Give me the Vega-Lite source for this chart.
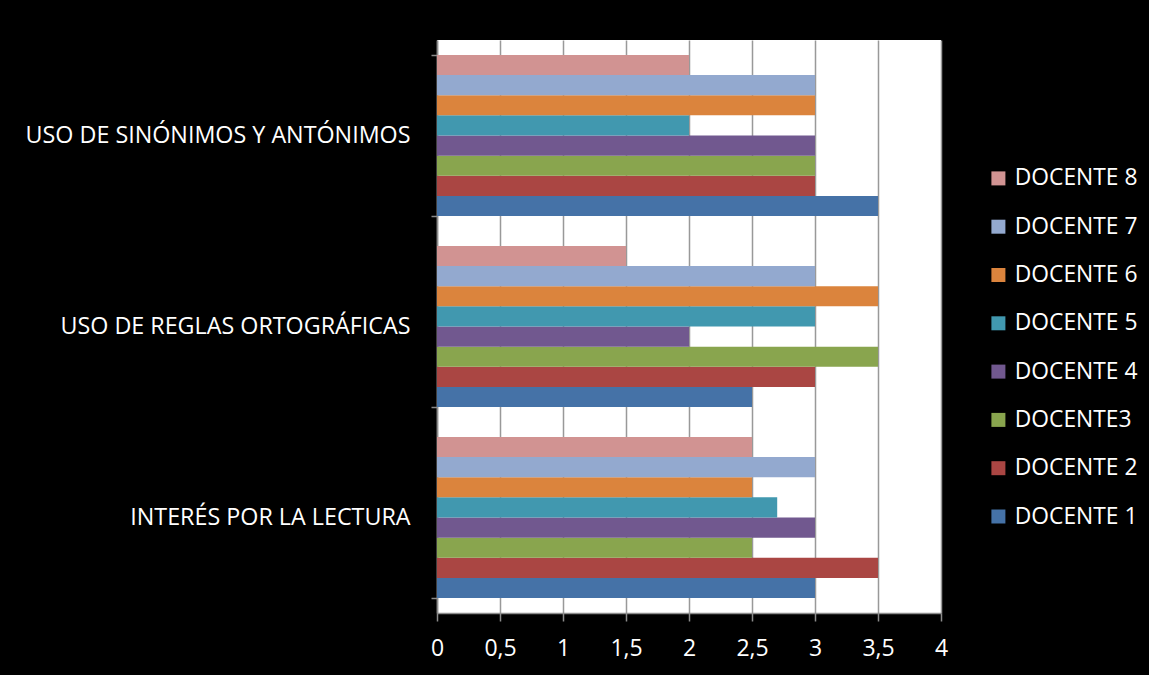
{
  "$schema": "https://vega.github.io/schema/vega-lite/v6.json",
  "width": 504,
  "height": 573,
  "autosize": {"type": "none"},
  "padding": {"left": 437, "top": 40, "right": 208, "bottom": 62},
  "background": "black",
  "data": {
    "values": [
      {"criterio": "USO DE SINÓNIMOS Y ANTÓNIMOS", "docente": "DOCENTE 1", "valor": 3.5},
      {"criterio": "USO DE SINÓNIMOS Y ANTÓNIMOS", "docente": "DOCENTE 2", "valor": 3},
      {"criterio": "USO DE SINÓNIMOS Y ANTÓNIMOS", "docente": "DOCENTE3", "valor": 3},
      {"criterio": "USO DE SINÓNIMOS Y ANTÓNIMOS", "docente": "DOCENTE 4", "valor": 3},
      {"criterio": "USO DE SINÓNIMOS Y ANTÓNIMOS", "docente": "DOCENTE 5", "valor": 2},
      {"criterio": "USO DE SINÓNIMOS Y ANTÓNIMOS", "docente": "DOCENTE 6", "valor": 3},
      {"criterio": "USO DE SINÓNIMOS Y ANTÓNIMOS", "docente": "DOCENTE 7", "valor": 3},
      {"criterio": "USO DE SINÓNIMOS Y ANTÓNIMOS", "docente": "DOCENTE 8", "valor": 2},
      {"criterio": "USO DE REGLAS ORTOGRÁFICAS", "docente": "DOCENTE 1", "valor": 2.5},
      {"criterio": "USO DE REGLAS ORTOGRÁFICAS", "docente": "DOCENTE 2", "valor": 3},
      {"criterio": "USO DE REGLAS ORTOGRÁFICAS", "docente": "DOCENTE3", "valor": 3.5},
      {"criterio": "USO DE REGLAS ORTOGRÁFICAS", "docente": "DOCENTE 4", "valor": 2},
      {"criterio": "USO DE REGLAS ORTOGRÁFICAS", "docente": "DOCENTE 5", "valor": 3},
      {"criterio": "USO DE REGLAS ORTOGRÁFICAS", "docente": "DOCENTE 6", "valor": 3.5},
      {"criterio": "USO DE REGLAS ORTOGRÁFICAS", "docente": "DOCENTE 7", "valor": 3},
      {"criterio": "USO DE REGLAS ORTOGRÁFICAS", "docente": "DOCENTE 8", "valor": 1.5},
      {"criterio": "INTERÉS POR LA LECTURA", "docente": "DOCENTE 1", "valor": 3},
      {"criterio": "INTERÉS POR LA LECTURA", "docente": "DOCENTE 2", "valor": 3.5},
      {"criterio": "INTERÉS POR LA LECTURA", "docente": "DOCENTE3", "valor": 2.5},
      {"criterio": "INTERÉS POR LA LECTURA", "docente": "DOCENTE 4", "valor": 3},
      {"criterio": "INTERÉS POR LA LECTURA", "docente": "DOCENTE 5", "valor": 2.7},
      {"criterio": "INTERÉS POR LA LECTURA", "docente": "DOCENTE 6", "valor": 2.5},
      {"criterio": "INTERÉS POR LA LECTURA", "docente": "DOCENTE 7", "valor": 3},
      {"criterio": "INTERÉS POR LA LECTURA", "docente": "DOCENTE 8", "valor": 2.5}
    ]
  },
  "mark": {"type": "bar", "stroke": null},
  "encoding": {
    "y": {
      "field": "criterio",
      "type": "nominal",
      "sort": ["USO DE SINÓNIMOS Y ANTÓNIMOS", "USO DE REGLAS ORTOGRÁFICAS", "INTERÉS POR LA LECTURA"],
      "scale": {"paddingInner": 0.157, "paddingOuter": 0.0785},
      "axis": {
        "title": null,
        "tickBand": "extent",
        "domainColor": "#8c8c8c",
        "domainWidth": 1.5,
        "tickColor": "#8c8c8c",
        "tickWidth": 1.5,
        "tickSize": 6,
        "labelPadding": 21,
        "labelColor": "white",
        "labelFont": "Open Sans",
        "labelFontSize": 23.3,
        "labelLimit": 500,
        "grid": false
      }
    },
    "yOffset": {
      "field": "docente",
      "type": "nominal",
      "sort": ["DOCENTE 8", "DOCENTE 7", "DOCENTE 6", "DOCENTE 5", "DOCENTE 4", "DOCENTE3", "DOCENTE 2", "DOCENTE 1"],
      "scale": {"paddingInner": 0, "paddingOuter": 0}
    },
    "x": {
      "field": "valor",
      "type": "quantitative",
      "scale": {"domain": [0, 4], "nice": false},
      "axis": {
        "title": null,
        "values": [0, 0.5, 1, 1.5, 2, 2.5, 3, 3.5, 4],
        "labelExpr": "replace(toString(datum.value), '.', ',')",
        "labelFlush": false,
        "grid": true,
        "gridColor": "#999999",
        "gridWidth": 1.5,
        "domainColor": "#8c8c8c",
        "domainWidth": 1.5,
        "tickColor": "#8c8c8c",
        "tickWidth": 1.5,
        "tickSize": 8,
        "labelPadding": 16,
        "labelColor": "white",
        "labelFont": "Open Sans",
        "labelFontSize": 23
      }
    },
    "color": {
      "field": "docente",
      "type": "nominal",
      "scale": {
        "domain": ["DOCENTE 8", "DOCENTE 7", "DOCENTE 6", "DOCENTE 5", "DOCENTE 4", "DOCENTE3", "DOCENTE 2", "DOCENTE 1"],
        "range": ["#D19392", "#93A9CF", "#DB843D", "#4198AF", "#71588F", "#89A54E", "#AA4643", "#4572A7"]
      },
      "legend": {
        "title": null,
        "orient": "none",
        "legendX": 550,
        "legendY": 127,
        "symbolType": "square",
        "symbolSize": 196,
        "symbolStrokeWidth": 0,
        "labelColor": "white",
        "labelFont": "Open Sans",
        "labelFontSize": 22.8,
        "labelOffset": 5,
        "rowPadding": 24.3
      }
    }
  },
  "config": {
    "view": {"fill": "white", "stroke": null}
  }
}
